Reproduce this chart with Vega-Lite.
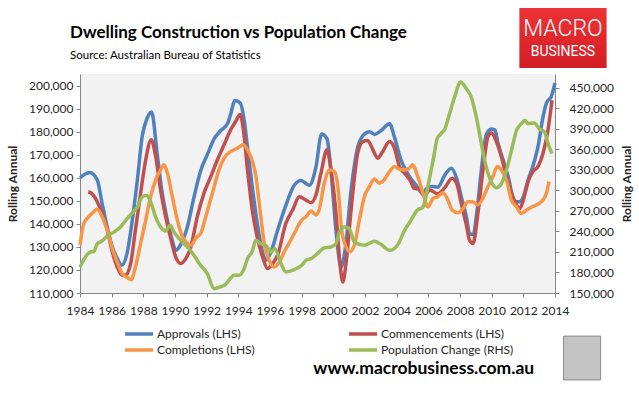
{
  "$schema": "https://vega.github.io/schema/vega-lite/v6.json",
  "width": 475,
  "height": 219,
  "autosize": "none",
  "padding": {"left": 80, "top": 74, "right": 84, "bottom": 100},
  "background": "white",
  "config": {
    "view": {"stroke": null, "fill": "#f2f2f2"},
    "font": "Lato",
    "axis": {"grid": false, "domainColor": "#868686", "tickColor": "#868686", "tickSize": 4, "labelColor": "#262626", "labelFontSize": 12, "titleFontSize": 12, "titleColor": "#262626", "labelFont": "Lato", "titleFont": "Lato", "titleFontWeight": "bold"}
  },
  "title": {
    "text": "Dwelling Construction vs Population Change",
    "subtitle": "Source: Australian Bureau of Statistics",
    "anchor": "start", "frame": "group",
    "font": "Lato", "fontSize": 17, "fontWeight": "bold", "color": "#000000",
    "subtitleFont": "Lato", "subtitleFontSize": 11.5, "subtitleColor": "#000000",
    "subtitlePadding": 8, "offset": 12, "dx": -10, "dy": 66
  },
  "datasets": {
    "lhs": [
      {"series": "Approvals (LHS)", "year": 1984.0, "value": 160000},
      {"series": "Approvals (LHS)", "year": 1984.3, "value": 161500},
      {"series": "Approvals (LHS)", "year": 1984.62, "value": 162300},
      {"series": "Approvals (LHS)", "year": 1985.09, "value": 159000},
      {"series": "Approvals (LHS)", "year": 1985.4, "value": 148700},
      {"series": "Approvals (LHS)", "year": 1985.72, "value": 138600},
      {"series": "Approvals (LHS)", "year": 1986.04, "value": 130000},
      {"series": "Approvals (LHS)", "year": 1986.35, "value": 125000},
      {"series": "Approvals (LHS)", "year": 1986.63, "value": 122000},
      {"series": "Approvals (LHS)", "year": 1986.99, "value": 127800},
      {"series": "Approvals (LHS)", "year": 1987.3, "value": 141500},
      {"series": "Approvals (LHS)", "year": 1987.62, "value": 158800},
      {"series": "Approvals (LHS)", "year": 1987.93, "value": 178000},
      {"series": "Approvals (LHS)", "year": 1988.25, "value": 186000},
      {"series": "Approvals (LHS)", "year": 1988.52, "value": 188500},
      {"series": "Approvals (LHS)", "year": 1988.88, "value": 170000},
      {"series": "Approvals (LHS)", "year": 1989.2, "value": 153000},
      {"series": "Approvals (LHS)", "year": 1989.52, "value": 141500},
      {"series": "Approvals (LHS)", "year": 1989.83, "value": 132800},
      {"series": "Approvals (LHS)", "year": 1990.04, "value": 128500},
      {"series": "Approvals (LHS)", "year": 1990.36, "value": 131000},
      {"series": "Approvals (LHS)", "year": 1990.78, "value": 138600},
      {"series": "Approvals (LHS)", "year": 1991.2, "value": 151600},
      {"series": "Approvals (LHS)", "year": 1991.62, "value": 163000},
      {"series": "Approvals (LHS)", "year": 1992.04, "value": 170000},
      {"series": "Approvals (LHS)", "year": 1992.47, "value": 176900},
      {"series": "Approvals (LHS)", "year": 1992.89, "value": 180500},
      {"series": "Approvals (LHS)", "year": 1993.31, "value": 183400},
      {"series": "Approvals (LHS)", "year": 1993.52, "value": 187700},
      {"series": "Approvals (LHS)", "year": 1993.78, "value": 193500},
      {"series": "Approvals (LHS)", "year": 1994.12, "value": 192400},
      {"series": "Approvals (LHS)", "year": 1994.37, "value": 184900},
      {"series": "Approvals (LHS)", "year": 1994.6, "value": 172000},
      {"series": "Approvals (LHS)", "year": 1994.9, "value": 155000},
      {"series": "Approvals (LHS)", "year": 1995.2, "value": 140000},
      {"series": "Approvals (LHS)", "year": 1995.5, "value": 128500},
      {"series": "Approvals (LHS)", "year": 1995.74, "value": 124200},
      {"series": "Approvals (LHS)", "year": 1996.06, "value": 127800},
      {"series": "Approvals (LHS)", "year": 1996.48, "value": 137200},
      {"series": "Approvals (LHS)", "year": 1997.0, "value": 148000},
      {"series": "Approvals (LHS)", "year": 1997.53, "value": 156700},
      {"series": "Approvals (LHS)", "year": 1997.96, "value": 158800},
      {"series": "Approvals (LHS)", "year": 1998.48, "value": 156700},
      {"series": "Approvals (LHS)", "year": 1998.9, "value": 164600},
      {"series": "Approvals (LHS)", "year": 1999.26, "value": 179000},
      {"series": "Approvals (LHS)", "year": 1999.6, "value": 176900},
      {"series": "Approvals (LHS)", "year": 1999.85, "value": 163200},
      {"series": "Approvals (LHS)", "year": 2000.17, "value": 137000},
      {"series": "Approvals (LHS)", "year": 2000.49, "value": 121300},
      {"series": "Approvals (LHS)", "year": 2000.74, "value": 128500},
      {"series": "Approvals (LHS)", "year": 2001.12, "value": 154500},
      {"series": "Approvals (LHS)", "year": 2001.54, "value": 173300},
      {"series": "Approvals (LHS)", "year": 2001.96, "value": 179000},
      {"series": "Approvals (LHS)", "year": 2002.28, "value": 180000},
      {"series": "Approvals (LHS)", "year": 2002.6, "value": 178800},
      {"series": "Approvals (LHS)", "year": 2003.02, "value": 180500},
      {"series": "Approvals (LHS)", "year": 2003.55, "value": 183400},
      {"series": "Approvals (LHS)", "year": 2003.86, "value": 177600},
      {"series": "Approvals (LHS)", "year": 2004.28, "value": 167500},
      {"series": "Approvals (LHS)", "year": 2004.7, "value": 161700},
      {"series": "Approvals (LHS)", "year": 2005.23, "value": 156700},
      {"series": "Approvals (LHS)", "year": 2005.66, "value": 153000},
      {"series": "Approvals (LHS)", "year": 2005.87, "value": 155200},
      {"series": "Approvals (LHS)", "year": 2006.18, "value": 156200},
      {"series": "Approvals (LHS)", "year": 2006.6, "value": 155900},
      {"series": "Approvals (LHS)", "year": 2007.03, "value": 161000},
      {"series": "Approvals (LHS)", "year": 2007.45, "value": 164100},
      {"series": "Approvals (LHS)", "year": 2007.82, "value": 159000},
      {"series": "Approvals (LHS)", "year": 2008.08, "value": 151800},
      {"series": "Approvals (LHS)", "year": 2008.4, "value": 143100},
      {"series": "Approvals (LHS)", "year": 2008.62, "value": 135500},
      {"series": "Approvals (LHS)", "year": 2008.85, "value": 135500},
      {"series": "Approvals (LHS)", "year": 2009.03, "value": 143100},
      {"series": "Approvals (LHS)", "year": 2009.35, "value": 163400},
      {"series": "Approvals (LHS)", "year": 2009.66, "value": 178700},
      {"series": "Approvals (LHS)", "year": 2009.98, "value": 181100},
      {"series": "Approvals (LHS)", "year": 2010.2, "value": 180800},
      {"series": "Approvals (LHS)", "year": 2010.4, "value": 175000},
      {"series": "Approvals (LHS)", "year": 2010.72, "value": 167800},
      {"series": "Approvals (LHS)", "year": 2011.04, "value": 160500},
      {"series": "Approvals (LHS)", "year": 2011.46, "value": 149600},
      {"series": "Approvals (LHS)", "year": 2011.78, "value": 149600},
      {"series": "Approvals (LHS)", "year": 2012.0, "value": 151800},
      {"series": "Approvals (LHS)", "year": 2012.3, "value": 159000},
      {"series": "Approvals (LHS)", "year": 2012.6, "value": 164900},
      {"series": "Approvals (LHS)", "year": 2012.93, "value": 173600},
      {"series": "Approvals (LHS)", "year": 2013.25, "value": 186600},
      {"series": "Approvals (LHS)", "year": 2013.46, "value": 192400},
      {"series": "Approvals (LHS)", "year": 2013.77, "value": 195300},
      {"series": "Approvals (LHS)", "year": 2014.0, "value": 201100},

      {"series": "Commencements (LHS)", "year": 1984.52, "value": 153900},
      {"series": "Commencements (LHS)", "year": 1984.77, "value": 153000},
      {"series": "Commencements (LHS)", "year": 1985.09, "value": 149600},
      {"series": "Commencements (LHS)", "year": 1985.4, "value": 144500},
      {"series": "Commencements (LHS)", "year": 1985.72, "value": 137300},
      {"series": "Commencements (LHS)", "year": 1986.04, "value": 127900},
      {"series": "Commencements (LHS)", "year": 1986.35, "value": 121300},
      {"series": "Commencements (LHS)", "year": 1986.67, "value": 117700},
      {"series": "Commencements (LHS)", "year": 1986.88, "value": 117700},
      {"series": "Commencements (LHS)", "year": 1987.2, "value": 122800},
      {"series": "Commencements (LHS)", "year": 1987.5, "value": 137300},
      {"series": "Commencements (LHS)", "year": 1987.83, "value": 153300},
      {"series": "Commencements (LHS)", "year": 1988.15, "value": 167800},
      {"series": "Commencements (LHS)", "year": 1988.5, "value": 176500},
      {"series": "Commencements (LHS)", "year": 1988.78, "value": 169200},
      {"series": "Commencements (LHS)", "year": 1989.09, "value": 154700},
      {"series": "Commencements (LHS)", "year": 1989.41, "value": 143100},
      {"series": "Commencements (LHS)", "year": 1989.73, "value": 133700},
      {"series": "Commencements (LHS)", "year": 1990.04, "value": 125700},
      {"series": "Commencements (LHS)", "year": 1990.36, "value": 122800},
      {"series": "Commencements (LHS)", "year": 1990.68, "value": 124900},
      {"series": "Commencements (LHS)", "year": 1991.0, "value": 130000},
      {"series": "Commencements (LHS)", "year": 1991.41, "value": 143100},
      {"series": "Commencements (LHS)", "year": 1991.83, "value": 153300},
      {"series": "Commencements (LHS)", "year": 1992.26, "value": 160500},
      {"series": "Commencements (LHS)", "year": 1992.68, "value": 167800},
      {"series": "Commencements (LHS)", "year": 1993.1, "value": 174300},
      {"series": "Commencements (LHS)", "year": 1993.52, "value": 180800},
      {"series": "Commencements (LHS)", "year": 1993.84, "value": 184500},
      {"series": "Commencements (LHS)", "year": 1994.12, "value": 187400},
      {"series": "Commencements (LHS)", "year": 1994.32, "value": 180800},
      {"series": "Commencements (LHS)", "year": 1994.58, "value": 163400},
      {"series": "Commencements (LHS)", "year": 1994.9, "value": 145000},
      {"series": "Commencements (LHS)", "year": 1995.2, "value": 134000},
      {"series": "Commencements (LHS)", "year": 1995.53, "value": 125700},
      {"series": "Commencements (LHS)", "year": 1995.85, "value": 120600},
      {"series": "Commencements (LHS)", "year": 1996.17, "value": 122800},
      {"series": "Commencements (LHS)", "year": 1996.48, "value": 126400},
      {"series": "Commencements (LHS)", "year": 1997.0, "value": 140200},
      {"series": "Commencements (LHS)", "year": 1997.43, "value": 146000},
      {"series": "Commencements (LHS)", "year": 1997.85, "value": 151800},
      {"series": "Commencements (LHS)", "year": 1998.27, "value": 150300},
      {"series": "Commencements (LHS)", "year": 1998.6, "value": 149200},
      {"series": "Commencements (LHS)", "year": 1998.9, "value": 152500},
      {"series": "Commencements (LHS)", "year": 1999.22, "value": 162000},
      {"series": "Commencements (LHS)", "year": 1999.6, "value": 172100},
      {"series": "Commencements (LHS)", "year": 1999.85, "value": 163400},
      {"series": "Commencements (LHS)", "year": 2000.17, "value": 144500},
      {"series": "Commencements (LHS)", "year": 2000.38, "value": 125700},
      {"series": "Commencements (LHS)", "year": 2000.6, "value": 114800},
      {"series": "Commencements (LHS)", "year": 2000.8, "value": 122800},
      {"series": "Commencements (LHS)", "year": 2001.12, "value": 146000},
      {"series": "Commencements (LHS)", "year": 2001.54, "value": 170700},
      {"series": "Commencements (LHS)", "year": 2001.86, "value": 175700},
      {"series": "Commencements (LHS)", "year": 2002.17, "value": 176200},
      {"series": "Commencements (LHS)", "year": 2002.5, "value": 172100},
      {"series": "Commencements (LHS)", "year": 2002.8, "value": 168500},
      {"series": "Commencements (LHS)", "year": 2003.12, "value": 171400},
      {"series": "Commencements (LHS)", "year": 2003.55, "value": 175700},
      {"series": "Commencements (LHS)", "year": 2003.86, "value": 172800},
      {"series": "Commencements (LHS)", "year": 2004.17, "value": 164900},
      {"series": "Commencements (LHS)", "year": 2004.5, "value": 162000},
      {"series": "Commencements (LHS)", "year": 2004.9, "value": 158300},
      {"series": "Commencements (LHS)", "year": 2005.1, "value": 155400},
      {"series": "Commencements (LHS)", "year": 2005.45, "value": 155000},
      {"series": "Commencements (LHS)", "year": 2005.76, "value": 152100},
      {"series": "Commencements (LHS)", "year": 2006.08, "value": 154700},
      {"series": "Commencements (LHS)", "year": 2006.6, "value": 153000},
      {"series": "Commencements (LHS)", "year": 2007.05, "value": 155800},
      {"series": "Commencements (LHS)", "year": 2007.5, "value": 159800},
      {"series": "Commencements (LHS)", "year": 2007.82, "value": 156900},
      {"series": "Commencements (LHS)", "year": 2008.08, "value": 148900},
      {"series": "Commencements (LHS)", "year": 2008.4, "value": 139500},
      {"series": "Commencements (LHS)", "year": 2008.6, "value": 132900},
      {"series": "Commencements (LHS)", "year": 2008.82, "value": 131500},
      {"series": "Commencements (LHS)", "year": 2009.13, "value": 144500},
      {"series": "Commencements (LHS)", "year": 2009.45, "value": 163400},
      {"series": "Commencements (LHS)", "year": 2009.77, "value": 177900},
      {"series": "Commencements (LHS)", "year": 2009.98, "value": 179400},
      {"series": "Commencements (LHS)", "year": 2010.3, "value": 175700},
      {"series": "Commencements (LHS)", "year": 2010.61, "value": 169200},
      {"series": "Commencements (LHS)", "year": 2010.93, "value": 160500},
      {"series": "Commencements (LHS)", "year": 2011.25, "value": 153300},
      {"series": "Commencements (LHS)", "year": 2011.57, "value": 148200},
      {"series": "Commencements (LHS)", "year": 2011.78, "value": 146700},
      {"series": "Commencements (LHS)", "year": 2012.0, "value": 150300},
      {"series": "Commencements (LHS)", "year": 2012.3, "value": 158300},
      {"series": "Commencements (LHS)", "year": 2012.6, "value": 162700},
      {"series": "Commencements (LHS)", "year": 2012.93, "value": 164900},
      {"series": "Commencements (LHS)", "year": 2013.25, "value": 170700},
      {"series": "Commencements (LHS)", "year": 2013.56, "value": 180800},
      {"series": "Commencements (LHS)", "year": 2013.81, "value": 193600},

      {"series": "Completions (LHS)", "year": 1984.0, "value": 130800},
      {"series": "Completions (LHS)", "year": 1984.24, "value": 140200},
      {"series": "Completions (LHS)", "year": 1984.56, "value": 143100},
      {"series": "Completions (LHS)", "year": 1984.88, "value": 145300},
      {"series": "Completions (LHS)", "year": 1985.09, "value": 146300},
      {"series": "Completions (LHS)", "year": 1985.4, "value": 143100},
      {"series": "Completions (LHS)", "year": 1985.72, "value": 137300},
      {"series": "Completions (LHS)", "year": 1986.04, "value": 129300},
      {"series": "Completions (LHS)", "year": 1986.35, "value": 123500},
      {"series": "Completions (LHS)", "year": 1986.67, "value": 118400},
      {"series": "Completions (LHS)", "year": 1986.99, "value": 116700},
      {"series": "Completions (LHS)", "year": 1987.24, "value": 115800},
      {"series": "Completions (LHS)", "year": 1987.5, "value": 121300},
      {"series": "Completions (LHS)", "year": 1987.83, "value": 131500},
      {"series": "Completions (LHS)", "year": 1988.15, "value": 141600},
      {"series": "Completions (LHS)", "year": 1988.46, "value": 151800},
      {"series": "Completions (LHS)", "year": 1988.78, "value": 159100},
      {"series": "Completions (LHS)", "year": 1989.09, "value": 163400},
      {"series": "Completions (LHS)", "year": 1989.3, "value": 165600},
      {"series": "Completions (LHS)", "year": 1989.52, "value": 162000},
      {"series": "Completions (LHS)", "year": 1989.83, "value": 151800},
      {"series": "Completions (LHS)", "year": 1990.15, "value": 141600},
      {"series": "Completions (LHS)", "year": 1990.47, "value": 134400},
      {"series": "Completions (LHS)", "year": 1990.78, "value": 131500},
      {"series": "Completions (LHS)", "year": 1991.04, "value": 130800},
      {"series": "Completions (LHS)", "year": 1991.3, "value": 133700},
      {"series": "Completions (LHS)", "year": 1991.62, "value": 135800},
      {"series": "Completions (LHS)", "year": 1991.94, "value": 143100},
      {"series": "Completions (LHS)", "year": 1992.36, "value": 153300},
      {"series": "Completions (LHS)", "year": 1992.78, "value": 163400},
      {"series": "Completions (LHS)", "year": 1993.1, "value": 168500},
      {"series": "Completions (LHS)", "year": 1993.52, "value": 171400},
      {"series": "Completions (LHS)", "year": 1993.95, "value": 172800},
      {"series": "Completions (LHS)", "year": 1994.32, "value": 174300},
      {"series": "Completions (LHS)", "year": 1994.58, "value": 172100},
      {"series": "Completions (LHS)", "year": 1994.9, "value": 167000},
      {"series": "Completions (LHS)", "year": 1995.1, "value": 161000},
      {"series": "Completions (LHS)", "year": 1995.32, "value": 149000},
      {"series": "Completions (LHS)", "year": 1995.64, "value": 131500},
      {"series": "Completions (LHS)", "year": 1995.95, "value": 124200},
      {"series": "Completions (LHS)", "year": 1996.27, "value": 121300},
      {"series": "Completions (LHS)", "year": 1996.6, "value": 123500},
      {"series": "Completions (LHS)", "year": 1996.9, "value": 127900},
      {"series": "Completions (LHS)", "year": 1997.2, "value": 131500},
      {"series": "Completions (LHS)", "year": 1997.53, "value": 135800},
      {"series": "Completions (LHS)", "year": 1998.0, "value": 141600},
      {"series": "Completions (LHS)", "year": 1998.27, "value": 143100},
      {"series": "Completions (LHS)", "year": 1998.6, "value": 145600},
      {"series": "Completions (LHS)", "year": 1998.9, "value": 143800},
      {"series": "Completions (LHS)", "year": 1999.1, "value": 146000},
      {"series": "Completions (LHS)", "year": 1999.43, "value": 157600},
      {"series": "Completions (LHS)", "year": 1999.75, "value": 163400},
      {"series": "Completions (LHS)", "year": 2000.06, "value": 162700},
      {"series": "Completions (LHS)", "year": 2000.3, "value": 155400},
      {"series": "Completions (LHS)", "year": 2000.5, "value": 138700},
      {"series": "Completions (LHS)", "year": 2000.8, "value": 130000},
      {"series": "Completions (LHS)", "year": 2001.05, "value": 127900},
      {"series": "Completions (LHS)", "year": 2001.33, "value": 130800},
      {"series": "Completions (LHS)", "year": 2001.64, "value": 141600},
      {"series": "Completions (LHS)", "year": 2001.96, "value": 151800},
      {"series": "Completions (LHS)", "year": 2002.28, "value": 156200},
      {"series": "Completions (LHS)", "year": 2002.6, "value": 159400},
      {"series": "Completions (LHS)", "year": 2002.9, "value": 157600},
      {"series": "Completions (LHS)", "year": 2003.2, "value": 159000},
      {"series": "Completions (LHS)", "year": 2003.55, "value": 162700},
      {"series": "Completions (LHS)", "year": 2003.86, "value": 164900},
      {"series": "Completions (LHS)", "year": 2004.17, "value": 163700},
      {"series": "Completions (LHS)", "year": 2004.5, "value": 163400},
      {"series": "Completions (LHS)", "year": 2004.8, "value": 164100},
      {"series": "Completions (LHS)", "year": 2005.0, "value": 165600},
      {"series": "Completions (LHS)", "year": 2005.3, "value": 161200},
      {"series": "Completions (LHS)", "year": 2005.66, "value": 153300},
      {"series": "Completions (LHS)", "year": 2005.98, "value": 147400},
      {"series": "Completions (LHS)", "year": 2006.3, "value": 151000},
      {"series": "Completions (LHS)", "year": 2006.6, "value": 151800},
      {"series": "Completions (LHS)", "year": 2006.92, "value": 153500},
      {"series": "Completions (LHS)", "year": 2007.24, "value": 150300},
      {"series": "Completions (LHS)", "year": 2007.5, "value": 146000},
      {"series": "Completions (LHS)", "year": 2007.87, "value": 144800},
      {"series": "Completions (LHS)", "year": 2008.2, "value": 146700},
      {"series": "Completions (LHS)", "year": 2008.5, "value": 149600},
      {"series": "Completions (LHS)", "year": 2008.8, "value": 149600},
      {"series": "Completions (LHS)", "year": 2009.1, "value": 148200},
      {"series": "Completions (LHS)", "year": 2009.45, "value": 151100},
      {"series": "Completions (LHS)", "year": 2009.77, "value": 156200},
      {"series": "Completions (LHS)", "year": 2010.08, "value": 160500},
      {"series": "Completions (LHS)", "year": 2010.36, "value": 164900},
      {"series": "Completions (LHS)", "year": 2010.61, "value": 163400},
      {"series": "Completions (LHS)", "year": 2010.93, "value": 159000},
      {"series": "Completions (LHS)", "year": 2011.25, "value": 150300},
      {"series": "Completions (LHS)", "year": 2011.57, "value": 147400},
      {"series": "Completions (LHS)", "year": 2011.88, "value": 144500},
      {"series": "Completions (LHS)", "year": 2012.2, "value": 146000},
      {"series": "Completions (LHS)", "year": 2012.5, "value": 147200},
      {"series": "Completions (LHS)", "year": 2012.83, "value": 148200},
      {"series": "Completions (LHS)", "year": 2013.14, "value": 149600},
      {"series": "Completions (LHS)", "year": 2013.46, "value": 153300},
      {"series": "Completions (LHS)", "year": 2013.62, "value": 158300}
    ],
    "rhs": [
      {"series": "Population Change (RHS)", "year": 1984.0, "value": 188000},
      {"series": "Population Change (RHS)", "year": 1984.35, "value": 203000},
      {"series": "Population Change (RHS)", "year": 1984.66, "value": 209900},
      {"series": "Population Change (RHS)", "year": 1984.87, "value": 210500},
      {"series": "Population Change (RHS)", "year": 1985.09, "value": 222000},
      {"series": "Population Change (RHS)", "year": 1985.4, "value": 226000},
      {"series": "Population Change (RHS)", "year": 1985.72, "value": 233300},
      {"series": "Population Change (RHS)", "year": 1986.14, "value": 239000},
      {"series": "Population Change (RHS)", "year": 1986.56, "value": 246400},
      {"series": "Population Change (RHS)", "year": 1986.88, "value": 256000},
      {"series": "Population Change (RHS)", "year": 1987.3, "value": 266900},
      {"series": "Population Change (RHS)", "year": 1987.62, "value": 275600},
      {"series": "Population Change (RHS)", "year": 1987.93, "value": 290300},
      {"series": "Population Change (RHS)", "year": 1988.2, "value": 292700},
      {"series": "Population Change (RHS)", "year": 1988.46, "value": 283000},
      {"series": "Population Change (RHS)", "year": 1988.78, "value": 261000},
      {"series": "Population Change (RHS)", "year": 1989.09, "value": 246400},
      {"series": "Population Change (RHS)", "year": 1989.41, "value": 240600},
      {"series": "Population Change (RHS)", "year": 1989.69, "value": 248900},
      {"series": "Population Change (RHS)", "year": 1989.94, "value": 239000},
      {"series": "Population Change (RHS)", "year": 1990.26, "value": 229400},
      {"series": "Population Change (RHS)", "year": 1990.57, "value": 222000},
      {"series": "Population Change (RHS)", "year": 1990.89, "value": 214800},
      {"series": "Population Change (RHS)", "year": 1991.2, "value": 205000},
      {"series": "Population Change (RHS)", "year": 1991.62, "value": 190400},
      {"series": "Population Change (RHS)", "year": 1992.04, "value": 178200},
      {"series": "Population Change (RHS)", "year": 1992.47, "value": 156300},
      {"series": "Population Change (RHS)", "year": 1992.84, "value": 158800},
      {"series": "Population Change (RHS)", "year": 1993.2, "value": 162700},
      {"series": "Population Change (RHS)", "year": 1993.48, "value": 170900},
      {"series": "Population Change (RHS)", "year": 1993.73, "value": 175800},
      {"series": "Population Change (RHS)", "year": 1994.05, "value": 175800},
      {"series": "Population Change (RHS)", "year": 1994.32, "value": 183100},
      {"series": "Population Change (RHS)", "year": 1994.58, "value": 200200},
      {"series": "Population Change (RHS)", "year": 1994.9, "value": 212300},
      {"series": "Population Change (RHS)", "year": 1995.1, "value": 226900},
      {"series": "Population Change (RHS)", "year": 1995.42, "value": 222000},
      {"series": "Population Change (RHS)", "year": 1995.74, "value": 219600},
      {"series": "Population Change (RHS)", "year": 1996.06, "value": 209900},
      {"series": "Population Change (RHS)", "year": 1996.3, "value": 214800},
      {"series": "Population Change (RHS)", "year": 1996.7, "value": 192900},
      {"series": "Population Change (RHS)", "year": 1997.0, "value": 180700},
      {"series": "Population Change (RHS)", "year": 1997.53, "value": 184100},
      {"series": "Population Change (RHS)", "year": 1998.0, "value": 190400},
      {"series": "Population Change (RHS)", "year": 1998.27, "value": 197700},
      {"series": "Population Change (RHS)", "year": 1998.6, "value": 200200},
      {"series": "Population Change (RHS)", "year": 1999.0, "value": 207500},
      {"series": "Population Change (RHS)", "year": 1999.4, "value": 215700},
      {"series": "Population Change (RHS)", "year": 1999.85, "value": 217200},
      {"series": "Population Change (RHS)", "year": 2000.17, "value": 222000},
      {"series": "Population Change (RHS)", "year": 2000.38, "value": 239100},
      {"series": "Population Change (RHS)", "year": 2000.7, "value": 246400},
      {"series": "Population Change (RHS)", "year": 2001.0, "value": 244000},
      {"series": "Population Change (RHS)", "year": 2001.33, "value": 224500},
      {"series": "Population Change (RHS)", "year": 2001.96, "value": 219600},
      {"series": "Population Change (RHS)", "year": 2002.6, "value": 225500},
      {"series": "Population Change (RHS)", "year": 2003.0, "value": 221100},
      {"series": "Population Change (RHS)", "year": 2003.55, "value": 212300},
      {"series": "Population Change (RHS)", "year": 2004.07, "value": 220600},
      {"series": "Population Change (RHS)", "year": 2004.5, "value": 241600},
      {"series": "Population Change (RHS)", "year": 2004.9, "value": 256200},
      {"series": "Population Change (RHS)", "year": 2005.3, "value": 270800},
      {"series": "Population Change (RHS)", "year": 2005.66, "value": 275600},
      {"series": "Population Change (RHS)", "year": 2006.05, "value": 315000},
      {"series": "Population Change (RHS)", "year": 2006.35, "value": 350000},
      {"series": "Population Change (RHS)", "year": 2006.55, "value": 375000},
      {"series": "Population Change (RHS)", "year": 2006.8, "value": 383000},
      {"series": "Population Change (RHS)", "year": 2007.03, "value": 389000},
      {"series": "Population Change (RHS)", "year": 2007.34, "value": 412000},
      {"series": "Population Change (RHS)", "year": 2007.66, "value": 436400},
      {"series": "Population Change (RHS)", "year": 2008.04, "value": 458400},
      {"series": "Population Change (RHS)", "year": 2008.4, "value": 448600},
      {"series": "Population Change (RHS)", "year": 2008.71, "value": 436400},
      {"series": "Population Change (RHS)", "year": 2009.03, "value": 407100},
      {"series": "Population Change (RHS)", "year": 2009.35, "value": 368200},
      {"series": "Population Change (RHS)", "year": 2009.66, "value": 334100},
      {"series": "Population Change (RHS)", "year": 2009.98, "value": 312200},
      {"series": "Population Change (RHS)", "year": 2010.3, "value": 303900},
      {"series": "Population Change (RHS)", "year": 2010.61, "value": 309700},
      {"series": "Population Change (RHS)", "year": 2010.93, "value": 329200},
      {"series": "Population Change (RHS)", "year": 2011.25, "value": 358400},
      {"series": "Population Change (RHS)", "year": 2011.57, "value": 387700},
      {"series": "Population Change (RHS)", "year": 2011.88, "value": 397400},
      {"series": "Population Change (RHS)", "year": 2012.1, "value": 402300},
      {"series": "Population Change (RHS)", "year": 2012.3, "value": 397400},
      {"series": "Population Change (RHS)", "year": 2012.7, "value": 398400},
      {"series": "Population Change (RHS)", "year": 2013.0, "value": 390100},
      {"series": "Population Change (RHS)", "year": 2013.35, "value": 385200},
      {"series": "Population Change (RHS)", "year": 2013.56, "value": 368200},
      {"series": "Population Change (RHS)", "year": 2013.81, "value": 353600}
    ],
    "logo": [{"line1": "MACRO", "line2": "BUSINESS", "url": "www.macrobusiness.com.au"}]
  },
  "layer": [
    {
      "data": {"name": "lhs"},
      "mark": {"type": "line", "strokeWidth": 3.5, "interpolate": "monotone"},
      "encoding": {
        "x": {"field": "year", "type": "quantitative",
          "scale": {"domain": [1984, 2014], "nice": false, "zero": false},
          "axis": {"orient": "bottom", "values": [1984,1986,1988,1990,1992,1994,1996,1998,2000,2002,2004,2006,2008,2010,2012,2014], "labelExpr": "format(datum.value, 'd')", "title": null, "labelPadding": 8, "labelFlush": false, "labelOverlap": false}},
        "y": {"field": "value", "type": "quantitative",
          "scale": {"domain": [110000, 205000], "nice": false, "zero": false},
          "axis": {"orient": "left", "values": [110000,120000,130000,140000,150000,160000,170000,180000,190000,200000], "labelExpr": "format(datum.value, ',')", "title": "Rolling Annual", "labelPadding": 3, "titlePadding": 9, "labelOverlap": false}},
        "color": {"field": "series", "type": "nominal",
          "scale": {"domain": ["Approvals (LHS)", "Commencements (LHS)", "Completions (LHS)", "Population Change (RHS)"], "range": ["#4F81BD", "#C0504D", "#F79646", "#9BBB59"]},
          "legend": {"orient": "none", "legendX": 50, "legendY": 251, "direction": "horizontal", "columns": 2, "title": null, "symbolType": "M-2,0H2", "symbolSize": 196, "symbolStrokeWidth": 3.5, "labelFont": "Lato", "labelFontSize": 12, "labelColor": "#262626", "columnPadding": 87, "rowPadding": -1, "labelOffset": 9, "padding": 0}}
      }
    },
    {
      "data": {"name": "rhs"},
      "mark": {"type": "line", "strokeWidth": 3.5, "interpolate": "monotone"},
      "encoding": {
        "x": {"field": "year", "type": "quantitative", "scale": {"domain": [1984, 2014], "nice": false, "zero": false}, "axis": null},
        "y": {"field": "value", "type": "quantitative",
          "scale": {"domain": [150000, 470000], "nice": false, "zero": false},
          "axis": {"orient": "right", "values": [150000,180000,210000,240000,270000,300000,330000,360000,390000,420000,450000], "labelExpr": "format(datum.value, ',')", "title": "Rolling Annual", "titleAngle": 270, "labelPadding": 10, "titlePadding": 20, "labelOverlap": false}},
        "color": {"field": "series", "type": "nominal"}
      }
    },
    {
      "data": {"name": "logo"},
      "mark": {"type": "rect", "fill": {"gradient": "linear", "x1": 0, "y1": 0, "x2": 0, "y2": 1, "stops": [{"offset": 0, "color": "#ee3236"}, {"offset": 1, "color": "#d21e23"}]}},
      "encoding": {
        "x": {"datum": 2011.75, "type": "quantitative", "scale": {"domain": [1984, 2014], "nice": false, "zero": false}, "axis": null},
        "x2": {"datum": 2017.26},
        "y": {"datum": 233600, "type": "quantitative", "scale": {"domain": [110000, 205000], "nice": false, "zero": false}, "axis": null},
        "y2": {"datum": 207600}
      }
    },
    {
      "data": {"name": "logo"},
      "mark": {"type": "text", "color": "white", "font": "Roboto", "fontWeight": 300, "fontSize": 23, "baseline": "middle", "align": "center"},
      "encoding": {
        "text": {"field": "line1"},
        "x": {"datum": 2014.5, "type": "quantitative", "scale": {"domain": [1984, 2014], "nice": false, "zero": false}, "axis": null},
        "y": {"datum": 224500, "type": "quantitative", "scale": {"domain": [110000, 205000], "nice": false, "zero": false}, "axis": null}
      }
    },
    {
      "data": {"name": "logo"},
      "mark": {"type": "text", "color": "white", "font": "Roboto", "fontSize": 14, "baseline": "middle", "align": "center"},
      "encoding": {
        "text": {"field": "line2"},
        "x": {"datum": 2014.5, "type": "quantitative", "scale": {"domain": [1984, 2014], "nice": false, "zero": false}, "axis": null},
        "y": {"datum": 214500, "type": "quantitative", "scale": {"domain": [110000, 205000], "nice": false, "zero": false}, "axis": null}
      }
    },
    {
      "data": {"name": "logo"},
      "mark": {"type": "text", "color": "#000000", "font": "Lato", "fontWeight": "bold", "fontSize": 17.5, "baseline": "alphabetic", "align": "center"},
      "encoding": {
        "text": {"field": "url"},
        "x": {"datum": 2005.71, "type": "quantitative", "scale": {"domain": [1984, 2014], "nice": false, "zero": false}, "axis": null},
        "y": {"datum": 75000, "type": "quantitative", "scale": {"domain": [110000, 205000], "nice": false, "zero": false}, "axis": null}
      }
    },
    {
      "data": {"name": "logo"},
      "mark": {"type": "rect", "fill": "#c4c4c4", "stroke": "#8a8a8a", "strokeWidth": 1},
      "encoding": {
        "x": {"datum": 2014.54, "type": "quantitative", "scale": {"domain": [1984, 2014], "nice": false, "zero": false}, "axis": null},
        "x2": {"datum": 2016.88},
        "y": {"datum": 91300, "type": "quantitative", "scale": {"domain": [110000, 205000], "nice": false, "zero": false}, "axis": null},
        "y2": {"datum": 72300}
      }
    }
  ],
  "resolve": {"scale": {"x": "independent", "y": "independent"}, "axis": {"x": "independent", "y": "independent"}}
}
